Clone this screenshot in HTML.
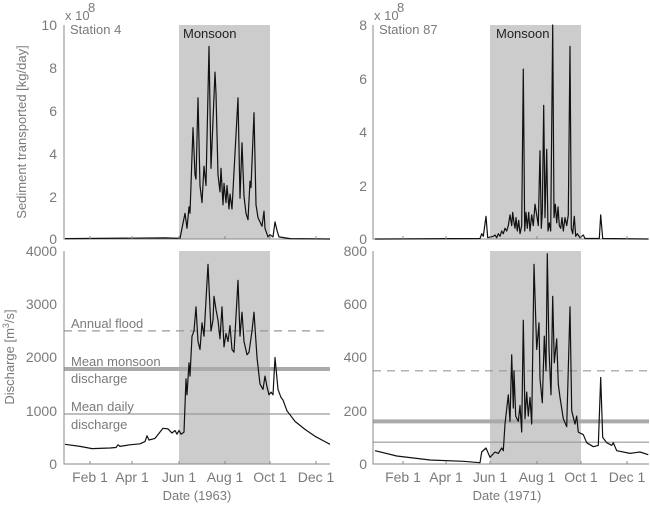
<!DOCTYPE html>
<html><head><meta charset="utf-8"><style>
html,body{margin:0;padding:0;background:#fff;}
svg{display:block;font-family:"Liberation Sans","DejaVu Sans",sans-serif;}
.t{fill:#7a7a7a;font-size:13px;}
.k{fill:#7a7a7a;font-size:14px;}
</style></head><body>
<svg id="s" width="650" height="506" viewBox="0 0 650 506" xmlns="http://www.w3.org/2000/svg">
<rect x="179" y="25" width="91" height="214" fill="#cccccc"/>
<rect x="179" y="251" width="91" height="213" fill="#cccccc"/>
<rect x="490" y="25" width="91" height="214" fill="#cccccc"/>
<rect x="490" y="251" width="91" height="213" fill="#cccccc"/>
<line x1="64" x2="330" y1="330.9" y2="330.9" stroke="#999" stroke-width="1.2" stroke-dasharray="8,6"/>
<line x1="64" x2="330" y1="369" y2="369" stroke="#aaa" stroke-width="4"/>
<line x1="64" x2="330" y1="414" y2="414" stroke="#999" stroke-width="1.2"/>
<line x1="373" x2="649" y1="370.8" y2="370.8" stroke="#999" stroke-width="1.2" stroke-dasharray="8,6"/>
<line x1="373" x2="649" y1="421.4" y2="421.4" stroke="#aaa" stroke-width="4"/>
<line x1="373" x2="649" y1="442.2" y2="442.2" stroke="#999" stroke-width="1.2"/>
<g id="axes" stroke="#888" stroke-width="1" fill="none">
<path d="M64,25V239H330M64,251V464H330"/>
<path d="M373,25V239H649M373,251V464H649"/>
</g>
<g id="lines"></g>
<text class="t" x="65" y="20" font-size="12">x 10</text><text class="t" x="88" y="12" font-size="9">8</text>
<text class="t" x="374" y="20" font-size="12">x 10</text><text class="t" x="397" y="12" font-size="9">8</text>
<text class="t" x="70" y="34">Station 4</text>
<text class="t" x="379" y="34">Station 87</text>
<text x="183" y="38" font-size="13" fill="#222">Monsoon</text>
<text x="496" y="38" font-size="13" fill="#222">Monsoon</text>
<g class="k" text-anchor="end">
<text x="57" y="30">10</text><text x="57" y="73">8</text><text x="57" y="116">6</text><text x="57" y="159">4</text><text x="57" y="202">2</text><text x="57" y="244">0</text>
<text x="57" y="256">4000</text><text x="57" y="309">3000</text><text x="57" y="362">2000</text><text x="57" y="416">1000</text><text x="57" y="469">0</text>
<text x="367" y="30">8</text><text x="367" y="84">6</text><text x="367" y="137">4</text><text x="367" y="191">2</text><text x="367" y="244">0</text>
<text x="367" y="256">800</text><text x="367" y="309">600</text><text x="367" y="362">400</text><text x="367" y="416">200</text><text x="367" y="469">0</text>
</g>
<g class="t" text-anchor="middle">
<text x="90" y="482" font-size="14">Feb 1</text><text x="132" y="482" font-size="14">Apr 1</text><text x="179" y="482" font-size="14">Jun 1</text><text x="225" y="482" font-size="14">Aug 1</text><text x="270" y="482" font-size="14">Oct 1</text><text x="316" y="482" font-size="14">Dec 1</text>
<text x="403" y="482" font-size="14">Feb 1</text><text x="446" y="482" font-size="14">Apr 1</text><text x="490" y="482" font-size="14">Jun 1</text><text x="537" y="482" font-size="14">Aug 1</text><text x="581" y="482" font-size="14">Oct 1</text><text x="627" y="482" font-size="14">Dec 1</text>
<text x="197" y="500">Date (1963)</text><text x="507" y="500">Date (1971)</text>
<text transform="translate(26,132) rotate(-90)">Sediment transported [kg/day]</text>
<text transform="translate(14,357) rotate(-90)">Discharge [m<tspan font-size="9" dy="-5">3</tspan><tspan dy="5">/s]</tspan></text>
</g>
<g class="t">
<text x="71" y="328">Annual flood</text>
<text x="71" y="366">Mean monsoon</text>
<text x="71" y="383">discharge</text>
<text x="71" y="411">Mean daily</text>
<text x="71" y="429">discharge</text>
</g>
</svg>
<script>
function poly(pts,fx,fy){return pts.map(p=>fx(p[0]).toFixed(1)+','+fy(p[1]).toFixed(1)).join(' ');}
function P(a){var r=[];for(var i=0;i<a.length;i+=2)r.push([a[i],a[i+1]]);return r;}
var LQ=P([65,370,80,330,92,290,110,300,116,310,118,360,120,330,130,360,140,380,145,420,147,530,149,450,155,480,163,670,168,660,172,580,175,630,177,560,179,630,181,560,184,600,186,1600,187,1300,189,1900,190,1650,192,2400,194,2500,196,2950,198,2300,200,2150,202,2650,204,2400,208,3750,211,2500,213,2700,214,3150,216,2900,218,2700,220,2350,222,2950,224,2200,226,2450,228,2300,230,2600,232,2150,234,2100,238,3450,240,2400,242,2850,244,2300,247,2050,249,2100,252,2500,254,2850,257,2000,260,1500,263,1400,265,1650,267,1450,269,1300,271,1350,273,1300,275,2000,278,1400,281,1250,283,1200,287,1000,295,800,305,650,315,520,325,420,330,370]);
var LS=P([65,0.02,165,0.05,180,0.03,185,1.2,187,0.5,189,1.5,190,1.2,193,5.2,195,3,196,2.8,198,6.6,200,2.5,202,1.7,204,3.4,206,2.5,209,9,211,3.3,215,7.8,216,6.8,218,3,220,2.2,221,3.3,223,1.6,224,2.6,226,1.7,227,2.5,229,1.4,230,2.1,232,1.4,238,6.6,240,1.9,242,4.5,244,2,246,1.2,248,0.9,250,2.7,251,2.4,254,5.9,256,1.6,258,1.0,262,0.6,264,1.3,265,0.5,268,0.1,270,0.2,273,0.1,275,0.8,277,0.4,279,0.1,290,0.02,330,0]);
var RQ=P([135,50,200,30,300,15,400,10,450,5,455,45,468,60,480,25,495,45,505,40,515,60,520,50,525,150,535,260,540,160,545,410,550,210,552,350,557,180,565,160,570,220,575,120,580,540,585,170,590,270,595,180,600,250,605,150,612,750,620,430,627,530,630,320,637,230,643,480,648,350,652,790,657,430,663,260,668,630,673,380,680,470,685,300,690,250,700,170,710,140,720,590,725,200,735,150,740,180,745,120,760,110,770,80,790,65,805,70,812,325,818,100,830,80,845,70,850,80,860,50,900,40,930,45,955,35]);
var RS=P([135,0,450,0.02,455,0.2,460,0.1,468,0.85,473,0.05,490,0.1,495,0.15,500,0.05,505,0.2,510,0.1,515,0.3,520,0.2,525,0.4,530,0.3,535,0.5,540,0.9,545,0.5,548,1.0,552,0.6,555,0.4,558,0.8,562,0.3,566,0.7,570,0.2,575,0.5,580,6.35,584,0.3,588,1.0,592,0.4,596,1.0,600,0.3,605,0.9,610,0.5,615,1.3,620,0.9,625,0.5,630,3.3,634,0.4,637,1.0,641,5.0,645,0.8,650,3.35,654,0.3,658,0.6,662,0.3,668,8.0,672,0.8,676,1.3,680,0.6,684,1.2,688,0.5,692,0.4,696,0.8,700,0.3,705,0.8,710,0.5,715,0.9,720,7.2,724,0.4,728,0.2,733,0.85,737,0.1,742,0.2,750,0.05,760,0.15,765,0.02,808,0.02,812,0.9,818,0.02,955,0]);
var id=x=>x, rx=z=>330+z/3;
var h='';
function add(pts,fx,fy){h+='<polyline fill="none" stroke="#111" stroke-width="1.2" stroke-linejoin="round" points="'+poly(pts,fx,fy)+'"/>';}
add(LQ,id,v=>464-v*213/4000);
add(LS,id,v=>239-v*21.4);
add(RQ,rx,v=>464-v*213/800);
add(RS,rx,v=>239-v*26.75);
var tl=[90,132,179,225,270,316],tr=[403,446,490,537,581,627];
[239,464].forEach(y=>{tl.forEach(x=>h+='<line x1="'+x+'" x2="'+x+'" y1="'+y+'" y2="'+(y-3)+'" stroke="#888"/>');tr.forEach(x=>h+='<line x1="'+x+'" x2="'+x+'" y1="'+y+'" y2="'+(y-3)+'" stroke="#888"/>');});
document.getElementById('lines').innerHTML=h;
</script>
</body></html>
